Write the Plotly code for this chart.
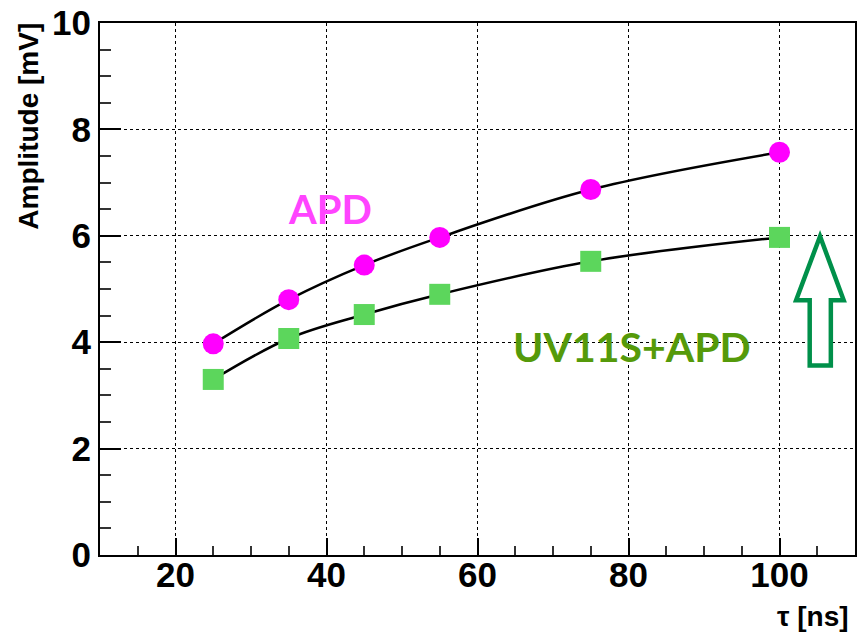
import plotly.graph_objects as go

tau = [25, 35, 45, 55, 75, 100]
amp_apd = [3.97, 4.80, 5.45, 5.97, 6.87, 7.57]
amp_uv = [3.30, 4.07, 4.52, 4.90, 5.52, 5.97]

x_ticks = [20, 40, 60, 80, 100]
y_ticks = [0, 2, 4, 6, 8, 10]

fig = go.Figure()
fig.add_trace(go.Scatter(
    x=tau, y=amp_apd, mode="lines+markers",
    line=dict(color="black", width=2.5, shape="spline", smoothing=1),
    marker=dict(symbol="circle", size=21, color="#ff00ff"),
    showlegend=False))
fig.add_trace(go.Scatter(
    x=tau, y=amp_uv, mode="lines+markers",
    line=dict(color="black", width=2.5, shape="spline", smoothing=1),
    marker=dict(symbol="square", size=21, color="#5cd65c"),
    showlegend=False))

tickfont = dict(family="Liberation Sans, Arial, sans-serif", size=35, color="black", weight="bold")

fig.update_xaxes(
    range=[10, 110], tickvals=x_ticks, ticks="inside", ticklen=17, tickwidth=1.5,
    tickcolor="black", showline=True, linecolor="black", linewidth=2, mirror=True,
    showgrid=True, gridcolor="black", griddash="dot", gridwidth=1.3,
    zeroline=False, tickfont=tickfont, ticklabelstandoff=-12,
    minor=dict(dtick=5, ticks="inside", ticklen=9, tickcolor="#333", tickwidth=1.5, showgrid=False))
fig.update_yaxes(
    range=[0, 10], tickvals=y_ticks, ticks="inside", ticklen=21, tickwidth=1.5,
    tickcolor="black", showline=True, linecolor="black", linewidth=2, mirror=True,
    showgrid=True, gridcolor="black", griddash="dot", gridwidth=1.3,
    zeroline=False, tickfont=tickfont, ticklabelstandoff=0,
    minor=dict(dtick=0.5, ticks="inside", ticklen=11, tickcolor="#333", tickwidth=1.5, showgrid=False))

# arrow
ax = [105.37, 108.5, 106.8, 106.8, 104.0, 104.0, 102.2]
ay = [5.99, 4.79, 4.79, 3.56, 3.56, 4.79, 4.79]
path = "M " + " L ".join(f"{a},{b}" for a, b in zip(ax, ay)) + " Z"
fig.add_shape(type="path", path=path, xref="x", yref="y",
              line=dict(color="#00904a", width=4.5), fillcolor="white", layer="above")

fig.add_annotation(x=40.4, y=6.5, xref="x", yref="y", text="APD", showarrow=False,
                   font=dict(family="Lato, sans-serif", size=40, color="#ff44ff", weight="bold"))
fig.add_annotation(x=80.4, y=3.91, xref="x", yref="y", text="UV11S+APD", showarrow=False,
                   font=dict(family="Lato, sans-serif", size=41, color="#559a0a", weight="bold"))

fig.add_annotation(x=-0.095, y=1.004, xref="paper", yref="paper", text="Amplitude [mV]",
                   textangle=-90, showarrow=False, xanchor="center", yanchor="top",
                   font=dict(family="Liberation Sans, Arial, sans-serif", size=28, color="black", weight="bold"))
fig.add_annotation(x=0.995, y=-0.116, xref="paper", yref="paper", text="τ [ns]",
                   showarrow=False, xanchor="right", yanchor="middle",
                   font=dict(family="Liberation Sans, Arial, sans-serif", size=28, color="black", weight="bold"))

fig.update_layout(width=860, height=636, margin=dict(l=100, r=3, t=22, b=81),
                  plot_bgcolor="white", paper_bgcolor="white")
fig.write_html("out.html")
